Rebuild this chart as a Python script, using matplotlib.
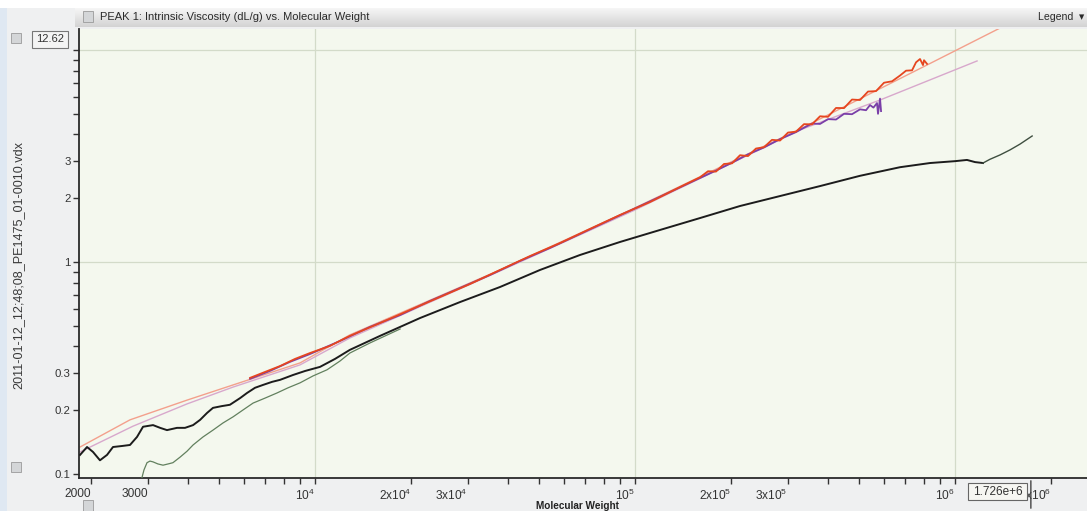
import matplotlib
matplotlib.use("Agg")
import matplotlib.pyplot as plt
import numpy as np
from matplotlib.patches import Rectangle
from matplotlib.ticker import FixedLocator, NullFormatter

plt.rcParams['font.family'] = ['Liberation Sans', 'DejaVu Sans']
plt.rcParams['mathtext.fontset'] = 'custom'
plt.rcParams['mathtext.rm'] = 'Liberation Sans'
plt.rcParams['mathtext.it'] = 'Liberation Sans:italic'
plt.rcParams['mathtext.default'] = 'regular'

# ---------------- data ----------------
# fitted curves (pale)
fit_a_mw = [1844, 2641, 3981, 5546, 8977, 12850, 37850, 100000, 327900, 817700, 1383000]
fit_a_iv = [0.134, 0.180, 0.223, 0.263, 0.334, 0.453, 0.917, 1.80, 4.24, 8.5, 12.7]

fit_b_mw = [1844, 2698, 3981, 5546, 8977, 12850, 37850, 100000, 327900, 583000, 1172000]
fit_b_iv = [0.127, 0.168, 0.214, 0.257, 0.327, 0.438, 0.907, 1.76, 4.20, 5.81, 8.88]

# measured traces
red_mw = [6266, 6982, 7780, 8660, 9647, 11140, 12850, 15960, 19820, 24600, 30500,
          37850, 46990, 58340, 72290, 89780, 111400, 138300, 159600, 169100, 179100,
          189700, 201000, 212900, 225500, 238800, 253000, 268000, 283900, 300700,
          318500, 337400, 357400, 378600, 401000, 424800, 450000, 476600, 504900,
          534800, 566500, 600000, 635600, 673200, 703000, 734100, 755400, 777400,
          794300, 800000, 817700]
red_iv = [0.284, 0.303, 0.323, 0.349, 0.372, 0.402, 0.448, 0.515, 0.594, 0.684, 0.787,
          0.917, 1.067, 1.229, 1.431, 1.666, 1.918, 2.258, 2.51, 2.68, 2.67,
          2.90, 2.92, 3.19, 3.16, 3.43, 3.48, 3.77, 3.74, 4.08,
          4.12, 4.47, 4.46, 4.87, 4.84, 5.33, 5.32, 5.84, 5.81,
          6.37, 6.40, 7.01, 7.12, 7.58, 7.99, 8.02, 8.75, 9.07,
          8.49, 8.95, 8.60]

purple_mw = [6266, 7223, 8356, 9647, 11970, 14850, 18450, 22870, 28380, 35220, 43720,
             54210, 67300, 83500, 103700, 128600, 159600, 179100, 201000, 225500,
             253000, 283900, 318500, 337400, 357400, 378600, 401000, 424800, 450000,
             476600, 504900, 527100, 542500, 556000, 570400, 574600, 583000, 587300]
purple_iv = [0.281, 0.306, 0.338, 0.368, 0.424, 0.494, 0.562, 0.655, 0.754, 0.868, 1.011,
             1.164, 1.355, 1.578, 1.837, 2.138, 2.49, 2.70, 2.94, 3.22,
             3.47, 3.80, 4.10, 4.30, 4.50, 4.48, 4.72, 4.70, 5.00,
             4.98, 5.25, 5.20, 5.50, 5.35, 5.62, 5.00, 5.90, 5.15]

black_mw = [1844, 1939, 2024, 2128, 2239, 2337, 2495, 2641, 2778, 2901, 3118, 3281,
            3447, 3704, 3924, 4158, 4375, 4598, 4799, 5117, 5420, 5834, 6131, 6494,
            6877, 7345, 7780, 8535, 9306, 10366, 11550, 12853, 15960, 21290, 28380,
            37850, 50470, 67300, 89780, 119700, 159700, 212900, 283900, 378600,
            504700, 673200, 835500, 1000000, 1090000, 1155000, 1223000]
black_iv = [0.123, 0.134, 0.127, 0.116, 0.123, 0.134, 0.1355, 0.137, 0.1495, 0.167,
            0.170, 0.165, 0.161, 0.165, 0.165, 0.170, 0.180, 0.194, 0.205, 0.209,
            0.212, 0.228, 0.241, 0.255, 0.263, 0.272, 0.278, 0.293, 0.306, 0.320,
            0.349, 0.385, 0.448, 0.544, 0.647, 0.762, 0.917, 1.079, 1.243, 1.416,
            1.612, 1.837, 2.047, 2.281, 2.55, 2.80, 2.93, 2.99, 3.03, 2.96, 2.93]

tail_mw = [1223000, 1285000, 1383000, 1486000, 1597000, 1742000]
tail_iv = [2.93, 3.05, 3.20, 3.38, 3.60, 3.93]

green_mw = [2860, 2877, 2921, 2985, 3049, 3118, 3228, 3350, 3475, 3597, 3786, 3981,
            4158, 4467, 4799, 5157, 5546, 5957, 6405, 6982, 7605, 8240, 8977, 9857,
            10901, 11970, 12853, 14850, 18450]
green_iv = [0.092, 0.0958, 0.1045, 0.113, 0.115, 0.114, 0.1115, 0.110, 0.1115, 0.113,
            0.120, 0.128, 0.137, 0.1495, 0.161, 0.174, 0.186, 0.2004, 0.216, 0.228,
            0.241, 0.255, 0.269, 0.290, 0.310, 0.341, 0.372, 0.415, 0.483]

x_major = [2000, 3000, 1e4, 2e4, 3e4, 1e5, 2e5, 3e5, 1e6, 2e6]
x_major_labels = ['2000', '3000', '10$^4$', '2x10$^4$', '3x10$^4$', '10$^5$',
                  '2x10$^5$', '3x10$^5$', '10$^6$', '2x10$^6$']
y_major = [0.1, 0.2, 0.3, 1, 2, 3, 10]
y_major_labels = ['0.1', '0.2', '0.3', '1', '2', '3', '']
x_grid = [1e4, 1e5, 1e6]
y_grid = [1, 10]
x_limits = (1830, 2.585e6)
y_limits = (0.0957, 12.62)
cursor_mw = 1.726e6

title = 'PEAK 1: Intrinsic Viscosity (dL/g) vs. Molecular Weight'
y_title = '2011-01-12_12;48;08_PE1475_01-0010.vdx'
x_title = 'Molecular Weight'

# ---------------- figure ----------------
W, H = 1087, 511
fig = plt.figure(figsize=(W / 100, H / 100), dpi=100)
fig.patch.set_facecolor('#eff0f1')


def fx(px):
    return px / W


def fy(py):
    return 1 - py / H


# white strip above the header, light blue edge on the left
fig.patches.append(Rectangle((0, fy(8)), 1, 8 / H, transform=fig.transFigure,
                             facecolor='white', edgecolor='none', zorder=0))
fig.patches.append(Rectangle((0, 0), 7 / W, fy(8), transform=fig.transFigure,
                             facecolor='#dfe8f2', edgecolor='none', zorder=0))

# header bar with gradient
hb = fig.add_axes([fx(75), fy(27), 1 - fx(75), 19 / H])
grad = np.linspace(0, 1, 50).reshape(-1, 1)
hb.imshow(grad, aspect='auto', cmap=matplotlib.colors.LinearSegmentedColormap.from_list(
    'hdr', ['#f8f8f8', '#d3d3d3']), extent=[0, 1, 0, 1])
hb.set_xlim(0, 1)
hb.set_ylim(0, 1)
hb.axis('off')

ax = fig.add_axes([fx(79), fy(478), 1 - fx(79), (478 - 28.6) / H])
ax.set_facecolor('#f4f8ee')
ax.set_xscale('log')
ax.set_yscale('log')
ax.set_xlim(*x_limits)
ax.set_ylim(*y_limits)

for v in x_grid:
    ax.axvline(v, color='#d3dbc9', lw=0.9, zorder=1)
for v in y_grid:
    ax.axhline(v, color='#d3dbc9', lw=0.9, zorder=1)

ax.plot(fit_a_mw, fit_a_iv, color='#f3a08c', lw=1.0, zorder=2)
ax.plot(fit_b_mw, fit_b_iv, color='#d8a8cc', lw=1.0, zorder=2)
ax.plot(green_mw, green_iv, color='#62805e', lw=0.9, zorder=3)
ax.plot(black_mw, black_iv, color='#1c1c1c', lw=1.4, zorder=4)
ax.plot(tail_mw, tail_iv, color='#3f4f40', lw=1.0, zorder=4)
ax.plot(purple_mw, purple_iv, color='#7a3fa8', lw=1.3, zorder=5)
ax.plot(red_mw, red_iv, color='#e6461f', lw=1.3, zorder=6)

for s in ('top', 'right'):
    ax.spines[s].set_visible(False)
for s in ('left', 'bottom'):
    ax.spines[s].set_color('#2a2a2a')
    ax.spines[s].set_linewidth(1.3)

ax.xaxis.set_major_locator(FixedLocator(x_major))
ax.set_xticklabels(x_major_labels)
minor_x = [m * d for d in (1e3, 1e4, 1e5) for m in range(2, 10)]
ax.xaxis.set_minor_locator(FixedLocator(minor_x))
ax.xaxis.set_minor_formatter(NullFormatter())
ax.yaxis.set_major_locator(FixedLocator(y_major))
ax.set_yticklabels(y_major_labels)
minor_y = [m * d for d in (0.1, 1) for m in range(2, 10)]
ax.yaxis.set_minor_locator(FixedLocator(minor_y))
ax.yaxis.set_minor_formatter(NullFormatter())
ax.tick_params(which='both', direction='out', length=4, width=1.0, color='#333333',
               labelcolor='#333333')
ax.tick_params(axis='x', pad=3, labelsize=8.6)
ax.tick_params(axis='y', pad=2, labelsize=8.2)
for lbl in ax.get_xticklabels():
    lbl.set_horizontalalignment('right')

# texts around the plot
fig.text(fx(100), fy(17.5), title, fontsize=8.0, color='#2a2a2a', va='center', ha='left')
fig.text(fx(1038), fy(17.5), 'Legend  \u25be', fontsize=7.6, color='#2a2a2a',
         va='center', ha='left', family=['Liberation Sans', 'DejaVu Sans'])
fig.text(fx(18), fy(265), y_title, rotation=90, fontsize=9.1, color='#3a3a3a',
         ha='center', va='center')
fig.text(fx(577), fy(505.5), x_title, fontsize=7.2, color='#222222', ha='center',
         va='center', fontweight='bold')

# small icon squares
for (x0, y0, w, h) in [(83, 11, 10, 11), (11, 33, 10, 10), (11, 462, 10, 10),
                       (83, 500, 10, 11)]:
    fig.patches.append(Rectangle((fx(x0), fy(y0 + h)), w / W, h / H,
                                 transform=fig.transFigure, facecolor='#d4d6d8',
                                 edgecolor='#9a9a9a', lw=0.6, zorder=5))
fig.text(fx(88), fy(16.5), '\u25b8', fontsize=6, color='#444444', ha='center',
         va='center', family=['DejaVu Sans'])

# y-axis max readout
fig.patches.append(Rectangle((fx(32), fy(48)), 36 / W, 17 / H, transform=fig.transFigure,
                             facecolor='#f4f4f4', edgecolor='#777777', lw=0.8, zorder=5))
fig.text(fx(50), fy(39.5), '12.62', fontsize=8, color='#333333', ha='center',
         va='center', zorder=6)

# cursor readout
ax.annotate('', xy=(cursor_mw, 0), xycoords=('data', 'axes fraction'),
            xytext=(cursor_mw, -33 / (478 - 28.6)), textcoords=('data', 'axes fraction'),
            arrowprops=dict(arrowstyle='-', color='#444444', lw=1.0), annotation_clip=False)
fig.patches.append(Rectangle((fx(968), fy(500)), 59 / W, 17 / H, transform=fig.transFigure,
                             facecolor='#f6f6f2', edgecolor='#666666', lw=0.8, zorder=10))
fig.text(fx(997.5), fy(491.5), '1.726e+6', fontsize=8.5, color='#333333', ha='center',
         va='center', zorder=11)

fig.savefig('out.png', dpi=100, facecolor=fig.get_facecolor())
